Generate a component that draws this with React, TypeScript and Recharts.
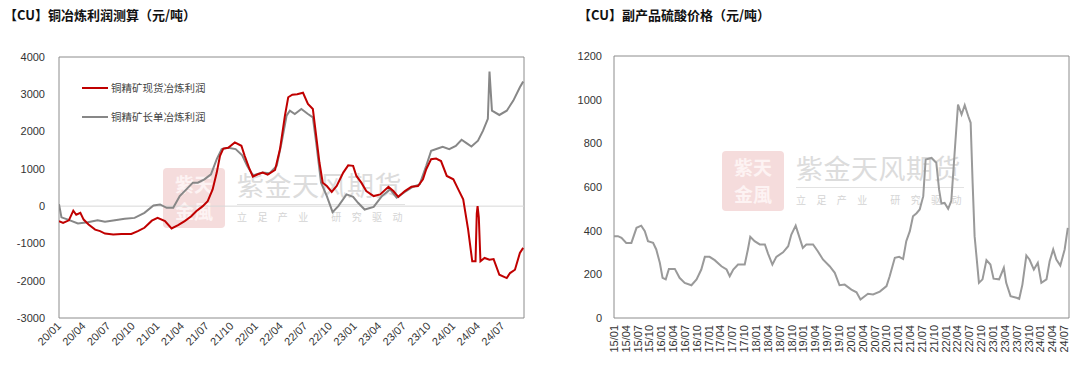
import React from "react";
import {
  LineChart,
  Line,
  XAxis,
  YAxis,
  ReferenceLine,
  ReferenceArea,
} from "recharts";

// months counted from 20/01 (left) and 15/01 (right)
const smelterTicks = [
  "20/01", "20/04", "20/07", "20/10", "21/01", "21/04", "21/07", "21/10",
  "22/01", "22/04", "22/07", "22/10", "23/01", "23/04", "23/07", "23/10",
  "24/01", "24/04", "24/07",
];

const smelterYTicks = [-3000, -2000, -1000, 0, 1000, 2000, 3000, 4000];

const spotProfit: [number, number][] = [
  [0, -400], [0.5, -450], [1.2, -380], [1.74, -120], [2.1, -230], [2.6, -180],
  [3.0, -360], [3.6, -490], [4.4, -630], [5.0, -670], [5.6, -735], [6.6, -760],
  [7.6, -745], [8.8, -745], [9.6, -670], [10.4, -580], [11.3, -390], [12.0, -315],
  [12.9, -400], [13.7, -600], [14.5, -510], [15.3, -400], [16.1, -270], [16.7, -135],
  [17.5, 0], [18.1, 135], [18.7, 450], [19.2, 900], [19.6, 1350], [20.0, 1545],
  [20.6, 1565], [21.4, 1710], [22.2, 1620], [22.6, 1350], [23.2, 990], [23.6, 790],
  [24.2, 855], [24.8, 900], [25.4, 845], [26.3, 970], [26.9, 1530], [27.5, 2425],
  [27.9, 2920], [28.4, 2990], [29.0, 3000], [29.7, 3040], [30.3, 2740], [30.9, 2605],
  [31.3, 1890], [31.7, 1170], [32.1, 630], [32.6, 540], [33.2, 380], [33.8, 540],
  [34.6, 900], [35.2, 1095], [35.8, 1080], [36.2, 810], [36.8, 630], [37.4, 405],
  [38.3, 270], [39.1, 315], [40.1, 520], [40.7, 405], [41.3, 250], [42.1, 405],
  [42.9, 520], [43.7, 540], [44.3, 720], [44.7, 990], [45.3, 1260], [45.9, 1275],
  [46.5, 1210], [47.2, 810], [48.0, 720], [48.6, 450], [49.2, 180], [49.8, -630],
  [50.3, -1480], [50.7, -1480], [50.85, -200], [50.95, 0], [51.1, -300], [51.3, -1480],
  [51.8, -1390], [52.4, -1435], [52.9, -1420], [53.6, -1840], [54.5, -1930], [54.9, -1795],
  [55.5, -1705], [56.1, -1255], [56.5, -1120],
];

const longTermProfit: [number, number][] = [
  [0, 50], [0.3, -300], [1.1, -360], [2.3, -465], [3.5, -430], [4.7, -380],
  [5.6, -420], [6.8, -380], [8.0, -340], [9.2, -315], [10.4, -180], [11.5, 20],
  [12.3, 45], [13.1, -45], [13.9, -45], [14.7, 270], [15.5, 450], [16.3, 630],
  [16.9, 630], [17.7, 720], [18.5, 855], [19.2, 1260], [19.8, 1530], [20.6, 1565],
  [21.5, 1530], [22.3, 1365], [22.9, 1080], [23.6, 825], [24.8, 900], [25.6, 880],
  [26.5, 1080], [27.1, 1710], [27.7, 2425], [28.1, 2560], [28.7, 2470], [29.5, 2605],
  [30.3, 2470], [30.9, 2380], [31.3, 1710], [31.9, 630], [32.6, 270], [33.3, -160],
  [34.0, 0], [35.0, 315], [35.8, 250], [36.4, 90], [37.2, -90], [38.3, -20],
  [39.3, 270], [40.3, 450], [41.1, 225], [42.1, 380], [43.1, 520], [43.9, 585],
  [44.7, 1080], [45.3, 1485], [46.1, 1545], [46.7, 1590], [47.5, 1530], [48.3, 1615],
  [49.0, 1780], [49.6, 1690], [50.2, 1600], [51.0, 1755], [51.6, 2020], [52.2, 2340],
  [52.4, 3610], [52.7, 2560], [53.6, 2445], [54.5, 2560], [55.3, 2830], [56.1, 3190],
  [56.5, 3340],
];

const acidTicks = [
  "15/01", "15/04", "15/07", "15/10", "16/01", "16/04", "16/07", "16/10",
  "17/01", "17/04", "17/07", "17/10", "18/01", "18/04", "18/07", "18/10",
  "19/01", "19/04", "19/07", "19/10", "20/01", "20/04", "20/07", "20/10",
  "21/01", "21/04", "21/07", "21/10", "22/01", "22/04", "22/07", "22/10",
  "23/01", "23/04", "23/07", "23/10", "24/01", "24/04", "24/07",
];

const acidYTicks = [0, 200, 400, 600, 800, 1000, 1200];

const acidPrice: [number, number][] = [
  [0, 375], [1.0, 375], [1.9, 367], [3.1, 344], [4.4, 344], [5.7, 413], [6.9, 423],
  [7.8, 398], [8.6, 352], [9.9, 344], [10.7, 314], [11.6, 253], [12.3, 184], [13.1, 177],
  [13.9, 225], [15.4, 225], [16.6, 184], [17.9, 161], [19.6, 150], [20.9, 177], [22.1, 222],
  [23.0, 280], [24.2, 280], [25.5, 265], [27.2, 237], [28.5, 222], [29.3, 191], [30.2, 222],
  [31.4, 245], [33.1, 245], [33.9, 314], [34.5, 372], [35.6, 352], [36.9, 337], [38.2, 337],
  [39.0, 295], [40.1, 245], [41.1, 280], [42.8, 301], [44.1, 329], [44.9, 382], [46.0, 423],
  [47.0, 367], [47.8, 321], [48.7, 337], [50.4, 337], [51.6, 306], [52.9, 268], [54.6, 237],
  [55.9, 207], [57.1, 150], [58.4, 153], [60.1, 130], [61.4, 118], [62.4, 85], [64.3, 111],
  [65.6, 108], [67.3, 121], [69.0, 146], [69.8, 191], [71.1, 276], [72.2, 280], [73.2, 270],
  [74.0, 352], [74.9, 398], [75.7, 466], [76.6, 480], [77.4, 497], [78.3, 558], [78.9, 726],
  [80.4, 733], [81.6, 711], [82.3, 589], [82.9, 524], [83.7, 527], [84.6, 500], [85.4, 536],
  [86.3, 772], [87.1, 978], [88.0, 932], [88.8, 975], [89.7, 924], [90.3, 894], [90.8, 619],
  [91.3, 375], [92.4, 161], [93.3, 177], [94.3, 265], [95.3, 245], [96.1, 180], [97.5, 177],
  [98.7, 230], [99.3, 161], [100.4, 100], [101.9, 93], [102.6, 88], [103.4, 153], [104.4, 286],
  [105.2, 268], [106.3, 222], [107.3, 253], [108.2, 161], [109.5, 177], [110.3, 260],
  [111.2, 314], [112.0, 268], [113.0, 240], [114.1, 314], [114.9, 413],
];

const RED = "#c00000";
const GRAY = "#878787";
const NUM_FONT = "'Liberation Sans', Arial, sans-serif";
const CJK_FONT = "'Noto Sans CJK SC', sans-serif";

const toRows = (pts: [number, number][]) => pts.map(([m, v]) => ({ m, v }));

function SlantTick(props: any) {
  const { x, y, payload } = props;
  const label = smelterTicks[Math.round(payload.value / 3)];
  return (
    <text
      x={x}
      y={y}
      transform={`rotate(-45 ${x} ${y})`}
      textAnchor="end"
      dy="0.35em"
      fontSize={11}
      fontFamily={NUM_FONT}
      fill="#333"
    >
      {label}
    </text>
  );
}

function UprightTick(props: any) {
  const { x, y, payload } = props;
  const label = acidTicks[Math.round(payload.value / 3)];
  return (
    <text
      x={x}
      y={y}
      transform={`rotate(-90 ${x} ${y})`}
      textAnchor="end"
      dy="0.35em"
      fontSize={11}
      fontFamily={NUM_FONT}
      fill="#333"
    >
      {label}
    </text>
  );
}

const stampChar: React.CSSProperties = {
  position: "absolute",
  left: 0,
  width: 62,
  color: "#fdf3f3",
  fontFamily: CJK_FONT,
  fontWeight: 700,
  fontSize: 19,
  lineHeight: "22px",
  height: 22,
  textAlign: "center",
  whiteSpace: "nowrap",
};

function Watermark({ left, top }: { left: number; top: number }) {
  return (
    <div style={{ position: "absolute", left, top, width: 250, height: 62 }}>
      <div
        style={{
          position: "absolute",
          left: 0,
          top: 0,
          width: 62,
          height: 60,
          background: "#f5dcdc",
          borderRadius: 4,
          overflow: "hidden",
        }}
      >
        <div style={{ ...stampChar, top: 5 }}>紫天</div>
        <div style={{ ...stampChar, top: 32 }}>金風</div>
      </div>
      <div
        style={{
          position: "absolute",
          left: 74,
          top: 2,
          fontFamily: CJK_FONT,
          fontSize: 27,
          lineHeight: "30px",
          color: "#dcdcdc",
          letterSpacing: 0.5,
          whiteSpace: "nowrap",
        }}
      >
        紫金天风期货
      </div>
      <div
        style={{
          position: "absolute",
          left: 74,
          top: 36,
          width: 168,
          borderTop: "1px solid #e2e2e2",
        }}
      />
      <div
        style={{
          position: "absolute",
          left: 74,
          top: 42,
          fontFamily: CJK_FONT,
          fontSize: 10,
          lineHeight: "14px",
          color: "#d4d4d4",
          letterSpacing: 10.4,
          whiteSpace: "nowrap",
        }}
      >
        立足产业 研究驱动
      </div>
    </div>
  );
}

const titleStyle: React.CSSProperties = {
  position: "absolute",
  top: 5,
  fontFamily: CJK_FONT,
  fontWeight: 700,
  fontSize: 13,
  color: "#111",
  whiteSpace: "nowrap",
};

export default function App() {
  const spotRows = toRows(spotProfit);
  const longRows = toRows(longTermProfit);
  const acidRows = toRows(acidPrice);

  return (
    <div
      style={{
        position: "fixed",
        left: 0,
        top: 0,
        width: 1080,
        height: 366,
        background: "#fff",
        overflow: "hidden",
      }}
    >
      <Watermark left={163} top={168} />
      <Watermark left={722} top={151} />

      <div style={{ ...titleStyle, left: 4 }}>【CU】铜冶炼利润测算（元/吨）</div>
      <div style={{ ...titleStyle, left: 578 }}>【CU】副产品硫酸价格（元/吨）</div>

      <div style={{ position: "absolute", left: 0, top: 0 }}>
        <LineChart
          width={540}
          height={366}
          margin={{ top: 57, right: 16, bottom: 0, left: 0 }}
        >
          <XAxis
            type="number"
            dataKey="m"
            domain={[0, 56.6]}
            ticks={smelterTicks.map((_, i) => i * 3)}
            tick={<SlantTick />}
            tickLine={false}
            tickSize={0}
            tickMargin={6}
            axisLine={false}
            height={48}
            allowDataOverflow
          />
          <YAxis
            type="number"
            domain={[-3000, 4000]}
            ticks={smelterYTicks}
            tickLine={false}
            tickSize={0}
            tickMargin={14}
            axisLine={false}
            width={59}
            tick={{ fontSize: 11, fill: "#333", fontFamily: NUM_FONT }}
          />
          <ReferenceLine y={0} stroke="#d9d9d9" strokeWidth={1} />
          <ReferenceArea
            x1={0}
            x2={56.6}
            y1={-3000}
            y2={4000}
            fill="none"
            stroke="#8c8c8c"
            strokeWidth={1}
            ifOverflow="visible"
          />
          <Line
            data={longRows}
            dataKey="v"
            type="linear"
            stroke={GRAY}
            strokeWidth={2}
            dot={false}
            isAnimationActive={false}
          />
          <Line
            data={spotRows}
            dataKey="v"
            type="linear"
            stroke={RED}
            strokeWidth={2}
            dot={false}
            isAnimationActive={false}
          />
        </LineChart>
      </div>

      <div
        style={{
          position: "absolute",
          left: 82,
          top: 80,
          fontFamily: CJK_FONT,
          fontSize: 10.5,
          color: "#444",
          lineHeight: "16px",
        }}
      >
        <div style={{ display: "flex", alignItems: "center", height: 16 }}>
          <span style={{ width: 26, height: 2, background: RED, marginRight: 3 }} />
          铜精矿现货冶炼利润
        </div>
        <div style={{ display: "flex", alignItems: "center", height: 16, marginTop: 13 }}>
          <span style={{ width: 26, height: 2, background: GRAY, marginRight: 3 }} />
          铜精矿长单冶炼利润
        </div>
      </div>

      <div style={{ position: "absolute", left: 540, top: 0 }}>
        <LineChart
          width={540}
          height={366}
          margin={{ top: 56, right: 11, bottom: 0, left: 0 }}
        >
          <XAxis
            type="number"
            dataKey="m"
            domain={[0, 115.2]}
            ticks={acidTicks.map((_, i) => i * 3)}
            tick={<UprightTick />}
            tickLine={false}
            tickSize={0}
            tickMargin={7}
            axisLine={false}
            height={48}
            allowDataOverflow
            interval={0}
          />
          <YAxis
            type="number"
            domain={[0, 1200]}
            ticks={acidYTicks}
            tickLine={false}
            tickSize={0}
            tickMargin={12}
            axisLine={false}
            width={74}
            tick={{ fontSize: 11, fill: "#333", fontFamily: NUM_FONT }}
          />
          <ReferenceArea
            x1={0}
            x2={115.2}
            y1={0}
            y2={1200}
            fill="none"
            stroke="#8c8c8c"
            strokeWidth={1}
            ifOverflow="visible"
          />
          <Line
            data={acidRows}
            dataKey="v"
            type="linear"
            stroke="#9a9a9a"
            strokeWidth={2}
            dot={false}
            isAnimationActive={false}
          />
        </LineChart>
      </div>
    </div>
  );
}
